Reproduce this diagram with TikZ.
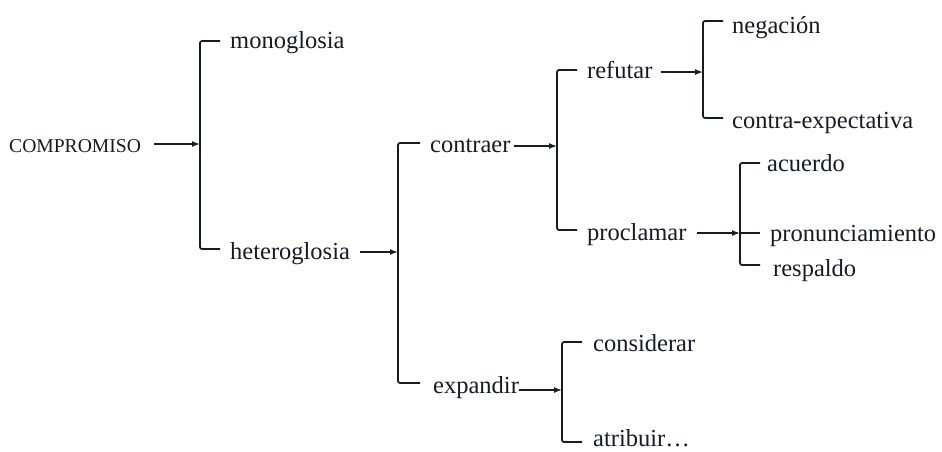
\documentclass[tikz,border=0pt]{standalone}
\usepackage{fontspec}
\setmainfont{Liberation Serif}
\usetikzlibrary{arrows.meta,calc}
\definecolor{ink}{HTML}{171B28}
\begin{document}
\begin{tikzpicture}[x=1pt,y=-1pt,
 lbl/.style={anchor=base west, inner sep=0pt, font=\fontsize{24.5}{28}\selectfont, text=ink},
 brk/.style={draw=ink, line width=1.7pt, rounded corners=2pt},
 arr/.style={draw=ink, line width=1.5pt, -{Latex[length=8pt,width=6pt]}}]
\useasboundingbox[fill=white] (0,0) rectangle (942,451);
% labels
\node[lbl, font=\fontsize{19.6}{22}\selectfont] (comp) at (9,152) {COMPROMISO};
\node[lbl] (mono) at (230,48) {monoglosia};
\node[lbl] (hetero) at (230,259) {heteroglosia};
\node[lbl] (contr) at (430,152) {contraer};
\node[lbl] (expa) at (433,393) {expandir};
\node[lbl] (refu) at (587,78) {refutar};
\node[lbl] (procl) at (587,240) {proclamar};
\node[lbl] (nega) at (732,33) {negación};
\node[lbl] (contra) at (732,128) {contra-expectativa};
\node[lbl] (acue) at (767,171) {acuerdo};
\node[lbl] (pron) at (770,241) {pronunciamiento};
\node[lbl] (resp) at (773,276) {respaldo};
\node[lbl] (cons) at (593,351) {considerar};
\node[lbl] (atri) at (593,446) {atribuir…};
% bracket 1
\coordinate (j1) at (200,144);
\coordinate (b1t) at (220,41); \coordinate (b1b) at (220,249);
\draw[brk] (b1t) -- (b1t -| j1) -- (b1b -| j1) -- (b1b);
\draw[arr] ($(comp.east|-j1)+(13,0)$) -- (j1);
% bracket 2
\coordinate (j2) at (398,252);
\coordinate (b2t) at (420,143); \coordinate (b2b) at (420,383);
\draw[brk] (b2t) -- (b2t -| j2) -- (b2b -| j2) -- (b2b);
\draw[arr] ($(hetero.east|-j2)+(10,0)$) -- (j2);
% bracket 3
\coordinate (j3) at (557,146);
\coordinate (b3t) at (577,70); \coordinate (b3b) at (577,230);
\draw[brk] (b3t) -- (b3t -| j3) -- (b3b -| j3) -- (b3b);
\draw[arr] ($(contr.east|-j3)+(3,0)$) -- (j3);
% bracket 4
\coordinate (j4) at (703,72);
\coordinate (b4t) at (723,21); \coordinate (b4b) at (723,118);
\draw[brk] (b4t) -- (b4t -| j4) -- (b4b -| j4) -- (b4b);
\draw[arr] ($(refu.east|-j4)+(8,0)$) -- (j4);
% bracket 5
\coordinate (j5) at (740,233);
\coordinate (b5t) at (760,163); \coordinate (b5m) at (760,233); \coordinate (b5b) at (760,265);
\draw[brk] (b5t) -- (b5t -| j5) -- (b5b -| j5) -- (b5b);
\draw[brk] (j5) -- (b5m);
\draw[arr] ($(procl.east|-j5)+(10,0)$) -- (j5);
% bracket 6
\coordinate (j6) at (562,390);
\coordinate (b6t) at (582,342); \coordinate (b6b) at (582,442);
\draw[brk] (b6t) -- (b6t -| j6) -- (b6b -| j6) -- (b6b);
\draw[arr] ($(expa.east|-j6)+(0,0)$) -- (j6);
\end{tikzpicture}
\end{document}
